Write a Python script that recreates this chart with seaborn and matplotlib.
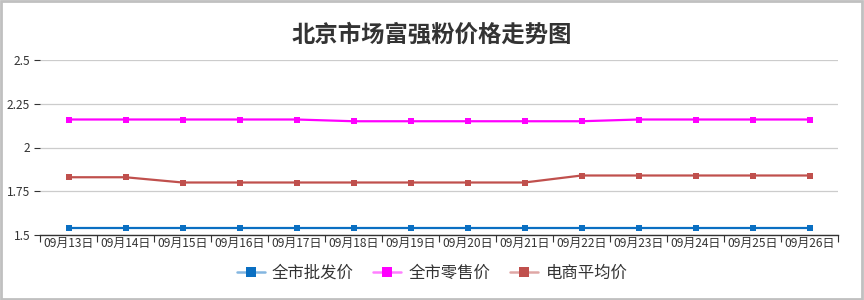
import matplotlib
matplotlib.use("Agg")
import matplotlib.pyplot as plt
import matplotlib.colors as mcolors
import seaborn as sns
import pandas as pd
from matplotlib.patches import Rectangle
from matplotlib.lines import Line2D

dates = ["09月13日", "09月14日", "09月15日", "09月16日", "09月17日", "09月18日", "09月19日",
         "09月20日", "09月21日", "09月22日", "09月23日", "09月24日", "09月25日", "09月26日"]
wholesale = [1.54] * 14
retail = [2.16, 2.16, 2.16, 2.16, 2.16, 2.15, 2.15, 2.15, 2.15, 2.15, 2.16, 2.16, 2.16, 2.16]
ecommerce = [1.83, 1.83, 1.80, 1.80, 1.80, 1.80, 1.80, 1.80, 1.80, 1.84, 1.84, 1.84, 1.84, 1.84]
series_names = ["全市批发价", "全市零售价", "电商平均价"]
colors = ["#0a6fc2", "#ff00ff", "#c0504d"]
yticks = [1.5, 1.75, 2, 2.25, 2.5]
ytick_labels = ["1.5", "1.75", "2", "2.25", "2.5"]

sns.set_theme(style="white")
plt.rcParams['font.family'] = ['Noto Sans CJK SC', 'DejaVu Sans']

rows = []
for name, vals in zip(series_names, [wholesale, retail, ecommerce]):
    for i, (d, v) in enumerate(zip(dates, vals)):
        rows.append({"idx": i, "date": d, "series": name, "price": v})
df = pd.DataFrame(rows)

fig = plt.figure(figsize=(8.64, 3.0), dpi=100)
ax = fig.add_axes([40 / 864, 1 - 235 / 300, 798 / 864, 175 / 300])

sns.lineplot(data=df, x="idx", y="price", hue="series", hue_order=series_names,
             palette=colors, marker="s", markersize=4, markeredgewidth=0,
             linewidth=1.6, ax=ax, legend=False)

ax.set_xlim(-0.5, len(dates) - 0.5)
ax.set_ylim(1.5, 2.5)
ax.set_yticks(yticks)
ax.set_yticklabels(ytick_labels)
ax.yaxis.grid(True, color="#cccccc", linewidth=0.9)
ax.set_axisbelow(True)

# category ticks: marks at boundaries, labels at centers
ax.set_xticks([i - 0.5 for i in range(len(dates) + 1)])
ax.set_xticklabels([])
ax.set_xticks(list(range(len(dates))), minor=True)
ax.set_xticklabels(dates, minor=True)
ax.tick_params(axis="x", which="major", length=5, width=0.8, color="#333333", direction="out", bottom=True)
ax.tick_params(axis="x", which="minor", length=0, labelsize=8.6, labelcolor="#333333", pad=1.5)
ax.tick_params(axis="y", length=4, width=0.8, color="#333333", labelsize=8.6, labelcolor="#333333", left=True, pad=3)

for s in ["top", "right", "left"]:
    ax.spines[s].set_visible(False)
ax.spines["bottom"].set_color("#333333")
ax.spines["bottom"].set_linewidth(1.0)
ax.set_xlabel("")
ax.set_ylabel("")

fig.text(0.5, 1 - 35 / 300, "北京市场富强粉价格走势图", ha="center", va="center",
         fontsize=16.8, fontweight="bold", color="#333333")

handles = [Line2D([0], [0], color=mcolors.to_rgba(c, 0.5), marker="s", markersize=6.5,
                  markerfacecolor=c, markeredgewidth=0, linewidth=1.8) for c in colors]
leg = fig.legend(handles, series_names, loc="center", bbox_to_anchor=(0.5, 1 - 273 / 300),
                 ncol=3, frameon=False, fontsize=11.8, handlelength=1.7, handletextpad=0.45,
                 columnspacing=1.2)
for t in leg.get_texts():
    t.set_color("#333333")

fig.add_artist(Rectangle((0.001, 0.002), 0.997, 0.995, transform=fig.transFigure,
                         fill=False, edgecolor="#c0c0c0", linewidth=2))

fig.savefig("out.png", dpi=100)
